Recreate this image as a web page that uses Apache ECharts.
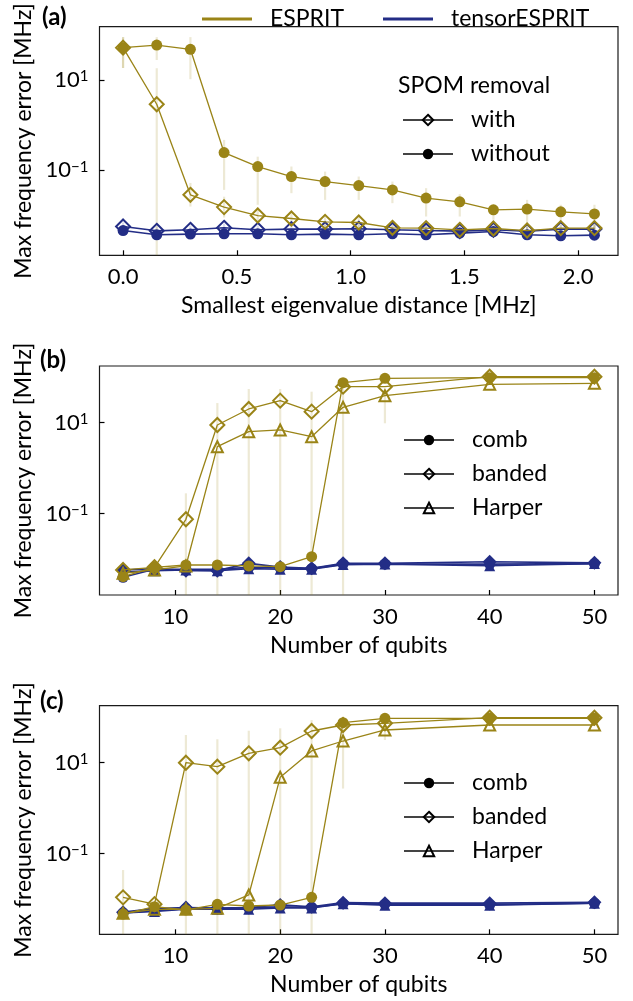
<!DOCTYPE html>
<html>
<head>
<meta charset="utf-8">
<script src="https://cdn.jsdelivr.net/npm/echarts@6/dist/echarts.min.js"></script>
<style>
  html, body { margin: 0; padding: 0; background: #fff; }
  #chart { width: 633px; height: 1001px; }
</style>
</head>
<body>
<div id="chart"></div>
<script>
// ---------- (a) error vs. smallest eigenvalue distance ----------
const distances = [0, 0.148, 0.296, 0.444, 0.592, 0.740, 0.888, 1.036, 1.184, 1.332, 1.480, 1.628, 1.776, 1.924, 2.072];

const espritWithout = [51.9, 59.4, 47.8, 0.247, 0.121, 0.0726, 0.0562, 0.0459, 0.0368, 0.0242, 0.0200, 0.0133, 0.0138, 0.0120, 0.0108];
const espritWithoutLo = [18.4, 27.7, 10.4, 0.0368, 0.0172, 0.0311, 0.0221, 0.0221, 0.0187, 0.00946, 0.00946, 0.0080, 0.0048, 0.0073, 0.0029];
const espritWithoutHi = [89, 89, 89, 0.47, 0.20, 0.121, 0.0935, 0.0726, 0.0562, 0.0402, 0.0296, 0.0172, 0.0221, 0.0172, 0.0172];

const espritWith = [51.9, 2.90, 0.0286, 0.0153, 0.00995, 0.00855, 0.00721, 0.00697, 0.00532, 0.00524, 0.00480, 0.00513, 0.00463, 0.00524, 0.00524];
const espritWithLo = [18.4, 0.0001, 0.0157, 0.0090, 0.0065, 0.0060, 0.0050, 0.0050, 0.0042, 0.0042, 0.0040, 0.0042, 0.0038, 0.0042, 0.0042];
const espritWithHi = [89, 18.2, 0.0525, 0.026, 0.015, 0.012, 0.0105, 0.0098, 0.0068, 0.0066, 0.0060, 0.0064, 0.0058, 0.0066, 0.0066];

const tensorWith = [0.00568, 0.00456, 0.00480, 0.00532, 0.00480, 0.00498, 0.00498, 0.00506, 0.00480, 0.00463, 0.00450, 0.00480, 0.00450, 0.00498, 0.00498];
const tensorWithLo = [0.0046, 0.0037, 0.0039, 0.0043, 0.0039, 0.0040, 0.0040, 0.0041, 0.0039, 0.0037, 0.0036, 0.0039, 0.0036, 0.0040, 0.0040];
const tensorWithHi = [0.0070, 0.0057, 0.0060, 0.0066, 0.0060, 0.0062, 0.0062, 0.0063, 0.0060, 0.0058, 0.0056, 0.0060, 0.0056, 0.0062, 0.0062];

const tensorWithout = [0.00463, 0.00372, 0.00386, 0.00392, 0.00392, 0.00372, 0.00386, 0.00372, 0.00392, 0.00372, 0.00406, 0.00440, 0.00372, 0.00354, 0.00366];
const tensorWithoutLo = [0.0037, 0.0029, 0.0030, 0.0031, 0.0031, 0.0029, 0.0030, 0.0029, 0.0031, 0.0029, 0.0032, 0.0035, 0.0029, 0.0028, 0.0029];
const tensorWithoutHi = [0.0058, 0.0047, 0.0048, 0.0049, 0.0049, 0.0047, 0.0048, 0.0047, 0.0049, 0.0047, 0.0051, 0.0055, 0.0047, 0.0044, 0.0046];

// ---------- (b) and (c) error vs. number of qubits ----------
const qubits = [5, 8, 11, 14, 17, 20, 23, 26, 30, 40, 50];

const bEspritComb   = [0.00412, 0.00664, 0.00746, 0.00746, 0.00710, 0.00685, 0.01135, 75.7, 94.6, 97.5, 97.5];
const bEspritBanded = [0.00580, 0.00664, 0.0754, 8.9, 20.0, 30.5, 17.5, 61.8, 61.8, 102.5, 102.5];
const bEspritHarper = [0.00490, 0.00580, 0.00710, 2.97, 6.34, 6.92, 4.92, 21.8, 39.2, 69.8, 73.5];
const bTensorComb   = [0.0040, 0.0060, 0.0060, 0.0060, 0.0066, 0.0064, 0.0062, 0.0078, 0.0078, 0.0078, 0.0080];
const bTensorBanded = [0.0058, 0.0062, 0.0056, 0.0056, 0.0081, 0.0067, 0.0063, 0.0081, 0.0081, 0.0088, 0.0083];
const bTensorHarper = [0.0052, 0.0056, 0.0058, 0.0056, 0.0062, 0.0060, 0.0060, 0.0076, 0.0078, 0.0072, 0.0080];
const bBandedLo = [null, null, 0.0001, 0.0001, 0.0001, 0.0001, 0.0001, null, null, null, null];
const bBandedHi = [null, null, 0.28, 27, 55, 55, 48, null, null, null, null];
const bCombLo   = [null, null, null, null, null, null, null, 0.0001, null, null, null];
const bCombHi   = [null, null, null, null, null, null, null, 77, null, null, null];
const bHarperLo = [null, null, null, null, null, null, null, null, 9.7, null, null];
const bHarperHi = [null, null, null, null, null, null, null, null, 45, null, null];

const cEspritComb   = [0.00473, 0.00684, 0.00580, 0.00773, 0.00710, 0.00746, 0.0110, 75.7, 94.6, 94.6, 94.6];
const cEspritBanded = [0.0110, 0.0078, 10.0, 8.17, 16.1, 21.4, 49.8, 67.4, 73.5, 97.5, 97.5];
const cEspritHarper = [0.0049, 0.0060, 0.0060, 0.0063, 0.0124, 4.78, 18.1, 30.0, 52.4, 67.4, 67.4];
const cTensorComb   = [0.0050, 0.0056, 0.0062, 0.0062, 0.0064, 0.0068, 0.0066, 0.0080, 0.0078, 0.0076, 0.0082];
const cTensorBanded = [0.0052, 0.0062, 0.0066, 0.0064, 0.0066, 0.0075, 0.0068, 0.0084, 0.0082, 0.0082, 0.0086];
const cTensorHarper = [0.0050, 0.0054, 0.0060, 0.0060, 0.0060, 0.0064, 0.0064, 0.0080, 0.0074, 0.0074, 0.0082];
const cBandedLo = [0.0001, null, 0.0001, 0.0001, 0.0001, 0.0001, 0.0001, null, null, null, null];
const cBandedHi = [0.0438, null, 40.6, 32.7, 50.5, 57, 86.7, null, null, null, null];
const cHarperLo = [null, null, null, null, null, null, null, 2.7, 31.5, null, null];
const cHarperHi = [null, null, null, null, null, null, null, 80, 80, null, null];

// ---------- tick labels ----------
const distanceTicks = [0, 0.5, 1.0, 1.5, 2.0];
const qubitTicks = [10, 20, 30, 40, 50];
const decadeTicks = [-1, 1];   // exponents of the labelled powers of ten

// ---------- styling ----------
const GOLD = '#9a8417';
const BLUE = '#232d86';
const GOLD_BAR = 'rgba(154,132,23,0.18)';
const BLUE_BAR = 'rgba(35,45,134,0.16)';
const FONT = 'Lato';
const TICK_FS = 22;
const NAME_FS = 23;
const LEG_FS = 23;

// log10 extents of each panel's error axis
const panels = [
  { top: 26.7, height: 228.6, yLo: -2.883, yHi: 2.18,
    xMin: -0.1036, xMax: 2.1756, xTicks: distanceTicks, xName: 'Smallest eigenvalue distance [MHz]',
    xFmt: v => v.toFixed(1) },
  { top: 366, height: 229, yLo: -2.787, yHi: 2.246,
    xMin: 2.75, xMax: 52.25, xTicks: qubitTicks, xName: 'Number of qubits', xFmt: v => String(v) },
  { top: 705.7, height: 228.6, yLo: -2.771, yHi: 2.253,
    xMin: 2.75, xMax: 52.25, xTicks: qubitTicks, xName: 'Number of qubits', xFmt: v => String(v) }
];
panels.forEach(p => { p.yMin = Math.pow(10, p.yLo); p.yMax = Math.pow(10, p.yHi); });

const grids = panels.map(p => ({
  left: 99.5, width: 518.5, top: p.top, height: p.height,
  outerBoundsMode: 'none', containLabel: false,
  show: true, borderColor: '#1a1a1a', borderWidth: 1.2, backgroundColor: 'transparent'
}));

const xAxes = panels.map((p, i) => ({
  type: 'value', gridIndex: i, min: p.xMin, max: p.xMax, position: 'bottom',
  name: p.xName, nameLocation: 'middle', nameGap: 39,
  nameTextStyle: { fontFamily: FONT, fontSize: NAME_FS, color: '#000' },
  axisLine: { show: false, onZero: false },
  splitLine: { show: false },
  axisTick: { show: true, inside: true, length: 5, customValues: p.xTicks, lineStyle: { color: '#000', width: 1.2 } },
  axisLabel: { customValues: p.xTicks, formatter: p.xFmt, margin: 11,
    fontFamily: FONT, fontSize: TICK_FS, color: '#000' }
}));

const powerLabel = e => '{b|10}{s|' + (e < 0 ? '\u2212' + (-e) : e) + '}';

// log axes carry the data
const logAxes = panels.map((p, i) => ({
  type: 'log', logBase: 10, gridIndex: i, min: p.yMin, max: p.yMax, position: 'left',
  axisLine: { show: false, onZero: false }, splitLine: { show: false },
  axisTick: { show: false }, axisLabel: { show: false }, minorTick: { show: false }
}));

// matching exponent axes carry the decade ticks, labels and title
const decadeAxes = panels.map((p, i) => ({
  type: 'value', gridIndex: i, min: p.yLo, max: p.yHi, position: 'left',
  name: 'Max frequency error [MHz]', nameLocation: 'middle', nameGap: 62,
  nameTextStyle: { fontFamily: FONT, fontSize: NAME_FS, color: '#000' },
  axisLine: { show: false, onZero: false }, splitLine: { show: false },
  axisTick: { show: true, inside: true, length: 5, customValues: decadeTicks, lineStyle: { color: '#000', width: 1.2 } },
  axisLabel: {
    customValues: decadeTicks, formatter: powerLabel, margin: 11,
    rich: {
      b: { fontFamily: FONT, fontSize: TICK_FS, color: '#000' },
      s: { fontFamily: FONT, fontSize: 15, color: '#000', verticalAlign: 'top' }
    }
  }
}));

function pairs(xs, ys) { return xs.map((x, i) => [x, ys[i]]); }

function lineSeries(name, idx, xs, ys, color, symbol, hollow, z) {
  return {
    type: 'line', name, xAxisIndex: idx, yAxisIndex: idx, data: pairs(xs, ys),
    symbol, symbolSize: symbol === 'diamond' ? 14 : 11,
    showSymbol: true, z,
    lineStyle: { color, width: color === BLUE ? 1.6 : 1.3 },
    itemStyle: hollow
      ? { color: 'transparent', borderColor: color, borderWidth: 2 }
      : { color, borderWidth: 0 },
    emphasis: { disabled: true }, silent: true
  };
}

function errorSeries(idx, xs, lo, hi, color) {
  const p = panels[idx];
  const data = [];
  xs.forEach((x, i) => { if (lo[i] != null) data.push([x, lo[i], hi[i]]); });
  return {
    type: 'custom', xAxisIndex: idx, yAxisIndex: idx, z: 1, silent: true,
    encode: { x: 0, y: [1, 2] },
    data,
    renderItem(params, api) {
      const x = api.value(0);
      const a = api.coord([x, Math.max(api.value(1), p.yMin)]);
      const b = api.coord([x, Math.min(api.value(2), p.yMax)]);
      return { type: 'line', shape: { x1: a[0], y1: a[1], x2: b[0], y2: b[1] },
               style: { stroke: color, lineWidth: 2.2 } };
    }
  };
}

function legendSeries(name, idx, symbol, hollow) {
  return {
    type: 'line', name, xAxisIndex: idx, yAxisIndex: idx, data: [], symbol,
    lineStyle: { color: '#444', width: 1.6 },
    itemStyle: hollow ? { color: 'transparent', borderColor: '#000', borderWidth: 2 } : { color: '#000', borderWidth: 0 }
  };
}

const series = [
  // (a)
  errorSeries(0, distances, tensorWithLo, tensorWithHi, BLUE_BAR),
  errorSeries(0, distances, tensorWithoutLo, tensorWithoutHi, BLUE_BAR),
  errorSeries(0, distances, espritWithoutLo, espritWithoutHi, GOLD_BAR),
  errorSeries(0, distances, espritWithLo, espritWithHi, GOLD_BAR),
  lineSeries('tensorESPRIT', 0, distances, tensorWithout, BLUE, 'circle', false, 2),
  lineSeries('tensorESPRIT', 0, distances, tensorWith, BLUE, 'diamond', true, 2),
  lineSeries('ESPRIT', 0, distances, espritWithout, GOLD, 'circle', false, 3),
  lineSeries('ESPRIT', 0, distances, espritWith, GOLD, 'diamond', true, 3),
  legendSeries('with', 0, 'diamond', true),
  legendSeries('without', 0, 'circle', false),
  // (b)
  errorSeries(1, qubits, bBandedLo, bBandedHi, GOLD_BAR),
  errorSeries(1, qubits, bCombLo, bCombHi, GOLD_BAR),
  errorSeries(1, qubits, bHarperLo, bHarperHi, GOLD_BAR),
  lineSeries('tensorESPRIT', 1, qubits, bTensorHarper, BLUE, 'triangle', false, 2),
  lineSeries('tensorESPRIT', 1, qubits, bTensorComb, BLUE, 'circle', false, 2),
  lineSeries('tensorESPRIT', 1, qubits, bTensorBanded, BLUE, 'diamond', false, 2),
  lineSeries('ESPRIT', 1, qubits, bEspritHarper, GOLD, 'triangle', true, 3),
  lineSeries('ESPRIT', 1, qubits, bEspritBanded, GOLD, 'diamond', true, 3),
  lineSeries('ESPRIT', 1, qubits, bEspritComb, GOLD, 'circle', false, 3),
  legendSeries('comb', 1, 'circle', false),
  legendSeries('banded', 1, 'diamond', true),
  legendSeries('Harper', 1, 'triangle', true),
  // (c)
  errorSeries(2, qubits, cBandedLo, cBandedHi, GOLD_BAR),
  errorSeries(2, qubits, cHarperLo, cHarperHi, GOLD_BAR),
  lineSeries('tensorESPRIT', 2, qubits, cTensorHarper, BLUE, 'triangle', false, 2),
  lineSeries('tensorESPRIT', 2, qubits, cTensorComb, BLUE, 'circle', false, 2),
  lineSeries('tensorESPRIT', 2, qubits, cTensorBanded, BLUE, 'diamond', false, 2),
  lineSeries('ESPRIT', 2, qubits, cEspritHarper, GOLD, 'triangle', true, 3),
  lineSeries('ESPRIT', 2, qubits, cEspritBanded, GOLD, 'diamond', true, 3),
  lineSeries('ESPRIT', 2, qubits, cEspritComb, GOLD, 'circle', false, 3)
];

const legText = { fontFamily: FONT, fontSize: LEG_FS, color: '#000', lineHeight: 26, padding: [0, 0, 0, 13] };

function methodLegend(name, left, color) {
  return {
    left, top: 1, selectedMode: false, itemWidth: 50, itemHeight: 3,
    textStyle: legText,
    data: [{ name, icon: 'rect', itemStyle: { color, borderWidth: 0 } }]
  };
}

function markerLegend(names, left, top) {
  return {
    orient: 'vertical', left, top, selectedMode: false,
    itemWidth: 50, itemHeight: 13, itemGap: 8,
    textStyle: legText,
    data: names
  };
}

const panelTitle = { fontFamily: FONT, fontSize: 24, fontWeight: 'bold', color: '#000' };

const option = {
  animation: false,
  backgroundColor: '#fff',
  title: [
    { text: '(a)', left: 42, top: 5, textStyle: panelTitle, padding: 0 },
    { text: '(b)', left: 40, top: 348, textStyle: panelTitle, padding: 0 },
    { text: '(c)', left: 40, top: 689, textStyle: panelTitle, padding: 0 },
    { text: 'SPOM removal', left: 398, top: 74, textStyle: { fontFamily: FONT, fontSize: LEG_FS, fontWeight: 'normal', color: '#000' }, padding: 0 }
  ],
  legend: [
    methodLegend('ESPRIT', 197, GOLD),
    methodLegend('tensorESPRIT', 378, BLUE),
    markerLegend(['with', 'without'], 397, 102),
    markerLegend(['comb', 'banded', 'Harper'], 398, 422),
    markerLegend(['comb', 'banded', 'Harper'], 398, 765)
  ],
  grid: grids,
  xAxis: xAxes,
  yAxis: logAxes.concat(decadeAxes),
  series
};

const chart = echarts.init(document.getElementById('chart'), null, { renderer: 'canvas' });
chart.setOption(option);
</script>
</body>
</html>
